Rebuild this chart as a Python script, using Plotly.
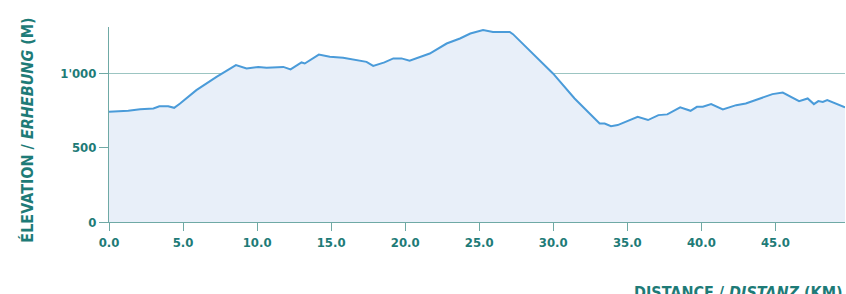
import plotly.graph_objects as go

distance_km = [0.0, 1.3, 2.1, 3.0, 3.4, 4.0, 4.4, 4.8, 5.9, 7.26, 8.57, 9.29, 10.08, 10.64,
               11.77, 12.26, 13.0, 13.22, 14.17, 14.91, 15.81, 17.39, 17.84, 18.6, 19.2,
               19.75, 20.3, 21.66, 22.8, 23.7, 24.4, 25.26, 25.93, 27.06, 27.28, 29.98,
               31.44, 33.13, 33.47, 33.9, 34.35, 35.0, 35.7, 36.4, 37.1, 37.7, 38.57,
               39.27, 39.7, 40.1, 40.66, 41.45, 42.35, 43.0, 44.05, 44.8, 45.5, 46.05,
               46.6, 47.18, 47.6, 47.9, 48.2, 48.5, 49.7]
elevation_m = [740, 747, 758, 763, 778, 778, 767, 796, 886, 975, 1054, 1031, 1042, 1036,
               1042, 1025, 1072, 1065, 1125, 1110, 1103, 1076, 1049, 1072, 1099,
               1099, 1083, 1132, 1199, 1233, 1266, 1289, 1277, 1277, 1262, 998,
               830, 662, 662, 644, 651, 678, 707, 685, 718, 723, 770,
               747, 774, 774, 792, 756, 785, 796, 834, 859, 870, 841,
               812, 830, 792, 812, 807, 819, 770]

x_tick_vals = [0, 5, 10, 15, 20, 25, 30, 35, 40, 45]
x_tick_text = ["0.0", "5.0", "10.0", "15.0", "20.0", "25.0", "30.0", "35.0", "40.0", "45.0"]
y_tick_vals = [0, 500, 1000]
y_tick_text = ["0", "500", "1'000"]

TEAL = "#1e7b77"
AXIS = "#6fa9a5"
FONT = "DejaVu Sans Condensed"

fig = go.Figure()
fig.add_trace(go.Scatter(
    x=distance_km, y=elevation_m, mode="lines",
    line=dict(color="#4a9bd9", width=2),
    fill="tozeroy", fillcolor="#e8eff9",
    hoverinfo="skip", showlegend=False,
))

fig.update_layout(
    width=846, height=294,
    margin=dict(l=109, r=1, t=27, b=72),
    plot_bgcolor="white", paper_bgcolor="white",
    font=dict(family=FONT, color=TEAL),
    xaxis=dict(
        range=[0, 49.7], tickvals=x_tick_vals, ticktext=x_tick_text,
        showgrid=False, zeroline=False, automargin=False,
        showline=True, linecolor=AXIS, linewidth=1,
        ticks="outside", ticklen=8, tickcolor=AXIS, tickwidth=1,
        tickfont=dict(family=FONT, size=13, color=TEAL, weight="bold"),
    ),
    yaxis=dict(
        range=[0, 1310], tickvals=y_tick_vals, ticktext=y_tick_text,
        showgrid=True, gridcolor="#9cc5c2", gridwidth=1, zeroline=False,
        automargin=False,
        showline=True, linecolor=AXIS, linewidth=1,
        ticks="outside", ticklen=9, tickcolor=AXIS, tickwidth=1,
        tickfont=dict(family=FONT, size=13, color=TEAL, weight="bold"),
    ),
    annotations=[
        dict(
            text="<b>DISTANCE / <i>DISTANZ</i> (KM)</b>",
            xref="paper", yref="paper", x=1.0, y=-0.305,
            xanchor="right", yanchor="top", showarrow=False,
            font=dict(family=FONT, size=16, color=TEAL),
        ),
        dict(
            text="<b>ÉLEVATION / <i>ERHEBUNG</i> (M)</b>",
            xref="paper", yref="paper", x=-0.111, y=0.47,
            xanchor="center", yanchor="middle", textangle=-90, showarrow=False,
            font=dict(family=FONT, size=16, color=TEAL),
        ),
    ],
)

fig.write_html(
    "out.html",
    config={"displayModeBar": False},
    post_script="document.body.style.margin='0';document.body.style.overflow='hidden';",
)
